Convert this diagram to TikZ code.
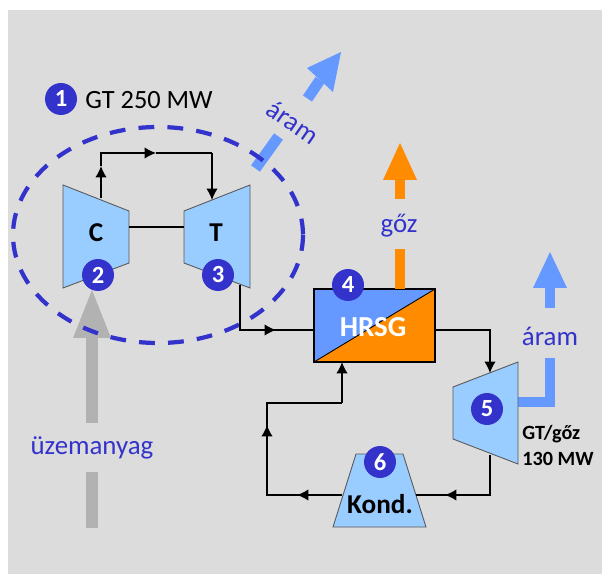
\documentclass[tikz,border=0pt]{standalone}
\usepackage{fontspec}
\setmainfont{Carlito}
\usepackage{xcolor}
\usetikzlibrary{positioning,arrows.meta}
\definecolor{bgGray}{HTML}{DCDCDC}
\definecolor{numBlue}{HTML}{3333CC}
\definecolor{turbBlue}{HTML}{99CCFF}
\definecolor{powBlue}{HTML}{6699FF}
\definecolor{steamOrange}{HTML}{FF8C00}
\definecolor{fuelGray}{HTML}{B2B2B2}
\tikzset{
	numdot/.style={circle, fill=numBlue, text=white, font=\fontsize{14}{14}\selectfont\bfseries, minimum size=18.2pt, inner sep=0pt},
	machine/.style={fill=turbBlue, draw=black!65, line width=0.5pt},
	flowline/.style={draw=black, line width=0.75pt},
	flowtip/.style={flowline, -{Latex[length=6.5pt,width=6.5pt]}},
	medium/.style={text=numBlue, font=\fontsize{15.3}{15.3}\selectfont},
	machinelabel/.style={font=\fontsize{15.5}{15.5}\selectfont\bfseries},
	ratinglabel/.style={font=\fontsize{11.5}{13}\selectfont\bfseries, anchor=west, inner sep=0pt},
}
\begin{document}
\begin{tikzpicture}[x=0.02cm, y=-0.02cm, >=Latex, line cap=butt, line join=miter]
	\useasboundingbox (0,0) rectangle (602,574);
	\fill[bgGray] (8,10) rectangle (602,574);

	% fuel arrow
	\coordinate (fueltip) at (92,290);
	\coordinate (fuelbase) at (92,338);
	\coordinate (fuelend) at (92,423);
	\coordinate (fuelstart) at (92,472);
	\coordinate (fuellow) at (92,528);
	\fill[fuelGray] (fueltip) -- (73,338) -- (111,338) -- cycle;
	\draw[fuelGray, line width=7pt] (fuelbase) -- (fuelend);
	\draw[fuelGray, line width=7pt] (fuelstart) -- (fuellow);
	\node[medium] (fuellabel) at (92,448) {üzemanyag};

	% gas turbine group
	\draw[machine] (63,185) -- (129,211) -- (129,263) -- (63,288) -- cycle;
	\draw[machine] (184,211) -- (250,185) -- (250,288) -- (184,263) -- cycle;
	\coordinate (shaftC) at (129,227);
	\coordinate (shaftT) at (184,227);
	\draw[flowline] (shaftC) -- (shaftT);
	\node[machinelabel] (labelC) at (96,233) {C};
	\node[machinelabel] (labelT) at (216,233) {T};

	\coordinate (outC) at (101,198);
	\coordinate (cornerCa) at (101,153);
	\coordinate (cornerCb) at (212,153);
	\coordinate (inT) at (212,200);
	\draw[flowtip] (outC) -- (101,166);
	\draw[flowline] (101,166) -- (cornerCa) -- (150,153);
	\draw[flowtip] (cornerCa) -- (156,153);
	\draw[flowline] (156,153) -- (cornerCb);
	\draw[flowtip] (cornerCb) -- (inT);

	% electric output of the group
	\draw[powBlue, line width=6.2pt] (255.5,168.5) -- (278.5,136.5);
	\draw[powBlue, line width=6.2pt] (307.5,98.5) -- (320,80);
	\fill[powBlue] (341,52) -- (307,68) -- (333,92) -- cycle;
	\node[medium, rotate=-35] (powlabel) at (293,122) {áram};

	\draw[numBlue, line width=2.4pt, dash pattern=on 9pt off 7.5pt] (158,235) ellipse [x radius=145, y radius=108];

	% hrsg
	\coordinate (hrsgNW) at (314,289);
	\coordinate (hrsgNE) at (435,289);
	\coordinate (hrsgSE) at (435,362);
	\coordinate (hrsgSW) at (314,362);
	\fill[powBlue] (hrsgSW) -- (hrsgNW) -- (hrsgNE) -- cycle;
	\fill[steamOrange] (hrsgSW) -- (hrsgSE) -- (hrsgNE) -- cycle;
	\draw[flowline] (hrsgSW) rectangle (hrsgNE);
	\draw[flowline, line width=0.5pt] (hrsgSW) -- (hrsgNE);
	\node[font=\fontsize{16.5}{16.5}\selectfont\bfseries, text=white] (hrsg) at (373,327) {HRSG};

	% steam output
	\draw[steamOrange, line width=6.2pt] (400,289) -- (400,249);
	\draw[steamOrange, line width=6.2pt] (400,199) -- (400,180);
	\fill[steamOrange] (400,143) -- (417,180) -- (383,180) -- cycle;
	\node[medium] (steamlabel) at (399,226) {gőz};

	% steam turbine
	\draw[powBlue, line width=6.2pt] (518,402) -- (550,402) -- (550,358);
	\draw[powBlue, line width=6.2pt] (550,308) -- (550,288);
	\fill[powBlue] (550,252) -- (567,288) -- (533,288) -- cycle;
	\node[medium] (powlabelb) at (550,336) {áram};
	\draw[machine] (453,387) -- (518,362) -- (518,464) -- (453,439) -- cycle;
	\node[ratinglabel] (gtlabel) at (522,434) {GT/gőz};
	\node[ratinglabel] (mwlabel) at (522,459) {130 MW};

	% condenser
	\draw[machine] (356,454) -- (403,454) -- (426,527) -- (333,527) -- cycle;
	\node[machinelabel] (kond) at (380,504) {Kond.};

	% water and steam cycle
	\coordinate (outT) at (240,285);
	\coordinate (inHrsg) at (314,330);
	\coordinate (outHrsg) at (435,330);
	\coordinate (inTurb) at (490,373);
	\coordinate (outTurb) at (490,455);
	\coordinate (inKond) at (416,495);
	\coordinate (outKond) at (342,495);
	\coordinate (cornerW) at (267,495);
	\coordinate (cornerN) at (267,403);
	\coordinate (backHrsg) at (342,362);
	\draw[flowline] (outT) |- (inHrsg);
	\draw[flowtip] (240,330) -- (276,330);
	\draw[flowtip] (outHrsg) -| (inTurb);
	\draw[flowline] (outTurb) |- (inKond);
	\draw[flowtip] (490,495) -- (445,495);
	\draw[flowline] (outKond) -- (cornerW) -- (cornerN) -- (342,403);
	\draw[flowtip] (outKond) -- (297,495);
	\draw[flowtip] (cornerW) -- (267,425);
	\draw[flowtip] (342,403) -- (backHrsg);

	% numbers
	\node[numdot] (num1) at (61,99) {1};
	\node[font=\fontsize{15}{15}\selectfont, anchor=west, inner sep=0pt] (gtpower) at (85,100) {GT 250 MW};
	\node[numdot] (num2) at (98,275) {2};
	\node[numdot] (num3) at (218,275) {3};
	\node[numdot] (num4) at (348,285) {4};
	\node[numdot] (num5) at (487,409) {5};
	\node[numdot] (num6) at (380,462) {6};
\end{tikzpicture}
\end{document}
